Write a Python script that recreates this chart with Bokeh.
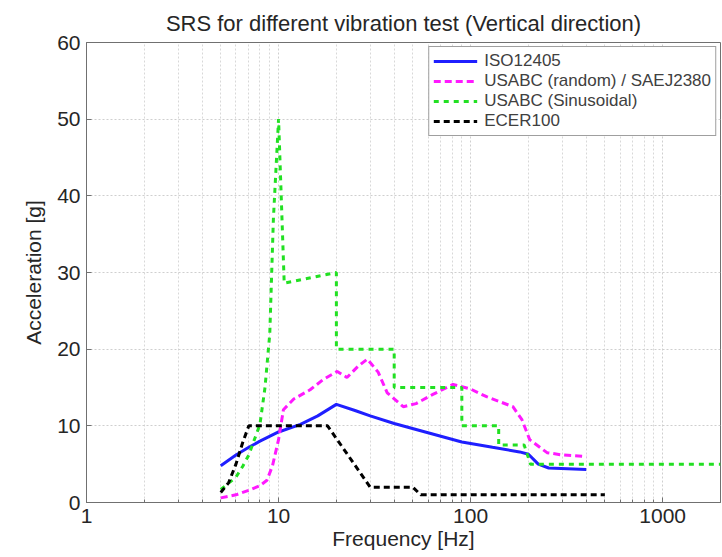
from bokeh.plotting import figure
from bokeh.models import FixedTicker, BasicTickFormatter, Legend, LegendItem, Range1d
from bokeh.embed import file_html
from bokeh.resources import INLINE

# ---------------- data ----------------
title_text = "SRS for different vibration test (Vertical direction)"
x_label = "Frequency [Hz]"
y_label = "Acceleration [g]"

x_ticks = [1, 10, 100, 1000]
x_minor = [2, 3, 4, 5, 6, 7, 8, 9,
           20, 30, 40, 50, 60, 70, 80, 90,
           200, 300, 400, 500, 600, 700, 800, 900, 2000]
y_ticks = [0, 10, 20, 30, 40, 50, 60]

iso_freq = [5, 6, 7, 8, 10, 13, 16, 20, 25, 30, 40, 60, 90, 130, 180, 200, 225, 255, 400]
iso_acc = [4.8, 6.2, 7.2, 8.0, 9.2, 10.2, 11.3, 12.8, 12.0, 11.3, 10.3, 9.1, 7.9, 7.2, 6.6, 6.3, 5.0, 4.5, 4.3]

rand_freq = [5, 6, 7, 8, 8.7, 9.3, 10, 10.6, 12, 14.6, 17, 20.2, 22.7, 26, 29, 33, 36.8,
             44.6, 52, 63.6, 81, 100, 121, 166, 185, 203, 250, 300, 400]
rand_acc = [0.6, 1.0, 1.6, 2.2, 2.9, 4.8, 8.2, 12.1, 13.5, 14.7, 16.0, 17.1, 16.3, 17.8, 18.7,
            17.0, 14.3, 12.5, 12.9, 14.1, 15.4, 14.8, 13.8, 12.5, 10.8, 8.2, 6.5, 6.2, 6.0]

sin_freq = [5, 6, 6.5, 7, 8, 8.5, 9, 9.4, 10, 10.7, 20, 20, 40, 40, 90, 90, 140, 140, 190, 205, 2000]
sin_acc = [1.7, 3.3, 4.7, 6.2, 10.2, 15, 22, 37, 50, 28.6, 30, 20, 20, 15, 15, 10, 10, 7.5, 7.5, 5, 5]

ecer_freq = [5, 5.5, 6, 6.5, 7, 18, 30, 50, 55, 500]
ecer_acc = [1.3, 2.6, 5.0, 7.8, 10, 10, 2, 2, 1, 1]

series_names = ["ISO12405", "USABC (random) / SAEJ2380", "USABC (Sinusoidal)", "ECER100"]

# ---------------- figure ----------------
FONT = "Liberation Sans"
TXT = "#262626"

p = figure(width=722, height=557, x_axis_type="log",
           x_range=Range1d(1, 2000), y_range=Range1d(0, 60),
           output_backend="svg", toolbar_location=None,
           min_border_left=86, min_border_right=2,
           min_border_top=42, min_border_bottom=55)

p.background_fill_color = "white"
p.border_fill_color = "white"
p.outline_line_color = "#707070"
p.outline_line_width = 1

p.title.text = title_text
p.title.align = "center"
p.title.vertical_align = "top"
p.title.text_font = FONT
p.title.text_font_size = "22px"
p.title.text_font_style = "normal"
p.title.text_color = TXT
p.title.standoff = 10

# x axis
xa = p.xaxis[0]
xa.ticker = FixedTicker(ticks=x_ticks, minor_ticks=x_minor)
xa.formatter = BasicTickFormatter(use_scientific=False)
xa.axis_label = x_label
for ax in (p.xaxis[0], p.yaxis[0]):
    ax.axis_label_text_font = FONT
    ax.axis_label_text_font_size = "21px"
    ax.axis_label_text_font_style = "normal"
    ax.axis_label_text_color = TXT
    ax.major_label_text_font = FONT
    ax.major_label_text_font_size = "21px"
    ax.major_label_text_color = TXT
    ax.axis_line_color = "#707070"
    ax.major_tick_line_color = "#707070"
    ax.minor_tick_line_color = "#707070"
    ax.major_tick_in = 5
    ax.major_tick_out = 0
    ax.minor_tick_in = 3
    ax.minor_tick_out = 0
xa.major_label_standoff = 6
xa.axis_label_standoff = 1

ya = p.yaxis[0]
ya.ticker = FixedTicker(ticks=y_ticks)
ya.axis_label = y_label
ya.major_label_standoff = 6
ya.axis_label_standoff = 9
ya.minor_tick_line_color = None

# grids
p.xgrid.grid_line_color = "#cfcfcf"
p.xgrid.grid_line_dash = "2 2"
p.xgrid.minor_grid_line_color = "#d8d8d8"
p.xgrid.minor_grid_line_dash = "2 2"
p.ygrid.grid_line_color = "#cfcfcf"
p.ygrid.grid_line_dash = "2 2"

# series
r_iso = p.line(iso_freq, iso_acc, line_color="#1f1fff", line_width=3)
r_rand = p.line(rand_freq, rand_acc, line_color="#ff19ff", line_width=3, line_dash="7 4")
r_sin = p.line(sin_freq, sin_acc, line_color="#22e022", line_width=3, line_dash="5 5")
r_ecer = p.line(ecer_freq, ecer_acc, line_color="#000000", line_width=3, line_dash="6 4")

legend = Legend(items=[
    LegendItem(label=series_names[0], renderers=[r_iso]),
    LegendItem(label=series_names[1], renderers=[r_rand]),
    LegendItem(label=series_names[2], renderers=[r_sin]),
    LegendItem(label=series_names[3], renderers=[r_ecer]),
], location="top_right")
legend.margin = 4
legend.padding = 4
legend.spacing = 0
legend.label_height = 20
legend.glyph_height = 20
legend.glyph_width = 44
legend.label_standoff = 7
legend.label_text_font = FONT
legend.label_text_font_size = "17px"
legend.label_text_color = "#404040"
legend.border_line_color = "#404040"
legend.border_line_width = 1
legend.background_fill_color = "white"
legend.background_fill_alpha = 1.0
p.add_layout(legend)

open("out.html", "w").write(file_html(p, INLINE))
